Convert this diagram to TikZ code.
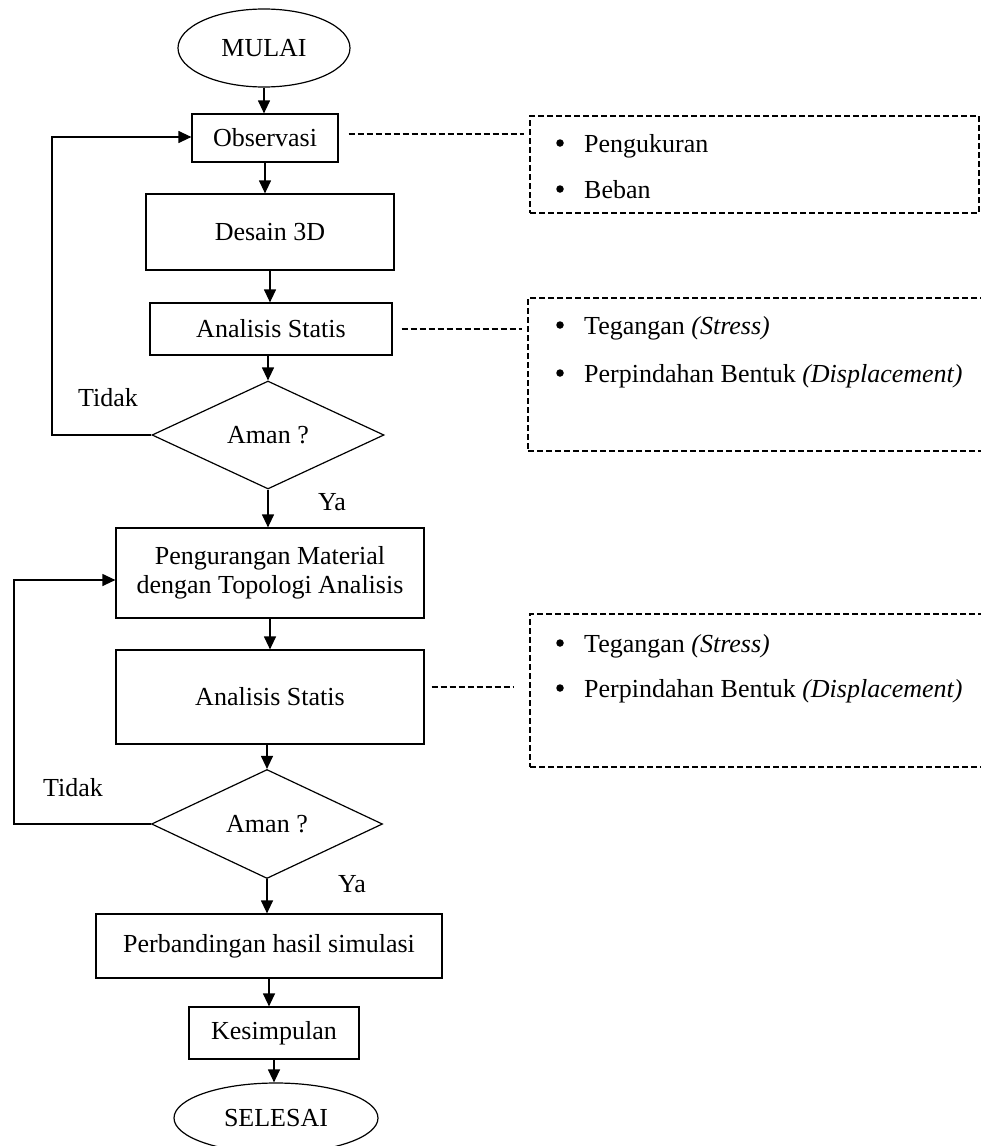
\documentclass[tikz,border=0pt]{standalone}
\usepackage{fontspec}
\setmainfont{Liberation Serif}
\usetikzlibrary{shapes.geometric,arrows.meta}
\begin{document}
\begin{tikzpicture}[x=1pt,y=-1pt,
  font=\fontsize{26}{29.5}\selectfont,
  box/.style={draw, line width=1.2pt, inner sep=0pt, align=center},
  term/.style={draw, ellipse, line width=1.2pt, inner sep=0pt},
  dec/.style={draw, diamond, aspect=2.15, line width=1.2pt, inner sep=0pt},
  arr/.style={line width=1.2pt, -{Triangle[length=13pt,width=12pt]}},
  note/.style={draw, line width=1.2pt, dash pattern=on 6pt off 3pt, inner sep=0pt},
  dline/.style={line width=1.2pt, dash pattern=on 6pt off 3pt},
  item/.style={anchor=base west, inner sep=0pt},
  bul/.style={circle, fill, inner sep=0pt, minimum size=7.5pt}
]
\clip (0,0) rectangle (981,1146);
\fill[white] (0,0) rectangle (981,1146);

% main flow
\node[term, minimum width=172pt, minimum height=78pt] (mulai) at (264,48) {MULAI};
\node[box, minimum width=146pt, minimum height=48pt] (obs) at (265,138) {Observasi};
\node[box, minimum width=248pt, minimum height=76pt] (des) at (270,232) {Desain 3D};
\node[box, minimum width=242pt, minimum height=52pt] (as1) at (271,329) {Analisis Statis};
\node[dec, minimum width=232pt, minimum height=108pt] (d1) at (268,435) {Aman ?};
\node[box, minimum width=308pt, minimum height=90pt] (peng) at (270,573) {Pengurangan Material\\dengan Topologi Analisis};
\node[box, minimum width=308pt, minimum height=94pt] (as2) at (270,697) {Analisis Statis};
\node[dec, minimum width=231pt, minimum height=109pt] (d2) at (267,824) {Aman ?};
\node[box, minimum width=346pt, minimum height=64pt] (perb) at (269,946) {Perbandingan hasil simulasi};
\node[box, minimum width=170pt, minimum height=52pt] (kes) at (274,1033) {Kesimpulan};
\node[term, minimum width=204pt, minimum height=70pt] (sel) at (276,1118) {SELESAI};

% labels
\node (t1) at (108,398) {Tidak};
\node (y1) at (332,502) {Ya};
\node (t2) at (73,788) {Tidak};
\node (y2) at (352,884) {Ya};

% arrows
\draw[arr] (mulai.south) -- (mulai.south |- obs.north);
\draw[arr] (obs.south) -- (obs.south |- des.north);
\draw[arr] (des.south) -- (des.south |- as1.north);
\draw[arr] (d1.north |- as1.south) -- (d1.north);
\draw[arr] (d1.south) -- (d1.south |- peng.north);
\draw[arr] (peng.south) -- (peng.south |- as2.north);
\draw[arr] (d2.north |- as2.south) -- (d2.north);
\draw[arr] (d2.south) -- (d2.south |- perb.north);
\draw[arr] (perb.south) -- (perb.south |- kes.north);
\draw[arr] (kes.south) -- (kes.south |- sel.north);

% feedback loops
\coordinate (l1) at (52,137);
\coordinate (l2) at (14,580);
\draw[arr] (d1.west) -| (l1) -- (l1 -| obs.west);
\draw[arr] (d2.west) -| (l2) -- (l2 -| peng.west);

% note boxes
\node[note, minimum width=449pt, minimum height=97pt] (n1) at (754.5,164.5) {};
\node[note, minimum width=472pt, minimum height=153pt] (n2) at (764,374.5) {};
\node[note, minimum width=470pt, minimum height=153pt] (n3) at (765,690.5) {};

\draw[dline, shorten <=10pt, shorten >=5pt] ([yshift=4pt]obs.east) -- ([yshift=4pt]obs.east -| n1.west);
\draw[dline, shorten <=9pt, shorten >=5pt] (as1.east) -- (as1.east -| n2.west);
\draw[dline, shorten <=7pt, shorten >=15pt] ([yshift=10pt]as2.east) -- ([yshift=10pt]as2.east -| n3.west);

% items
\node[bul] (b11) at (560,143) {};
\node[item] (i11) at (584,152) {Pengukuran};
\node[bul] (b12) at (560,189) {};
\node[item] (i12) at (584,198) {Beban};
\node[bul] (b21) at (560,325) {};
\node[item] (i21) at (584,334) {Tegangan \textit{(Stress)}};
\node[bul] (b22) at (560,373) {};
\node[item] (i22) at (584,382) {Perpindahan Bentuk \textit{(Displacement)}};
\node[bul] (b31) at (560,643) {};
\node[item] (i31) at (584,652) {Tegangan \textit{(Stress)}};
\node[bul] (b32) at (560,688) {};
\node[item] (i32) at (584,697) {Perpindahan Bentuk \textit{(Displacement)}};
\end{tikzpicture}
\end{document}
